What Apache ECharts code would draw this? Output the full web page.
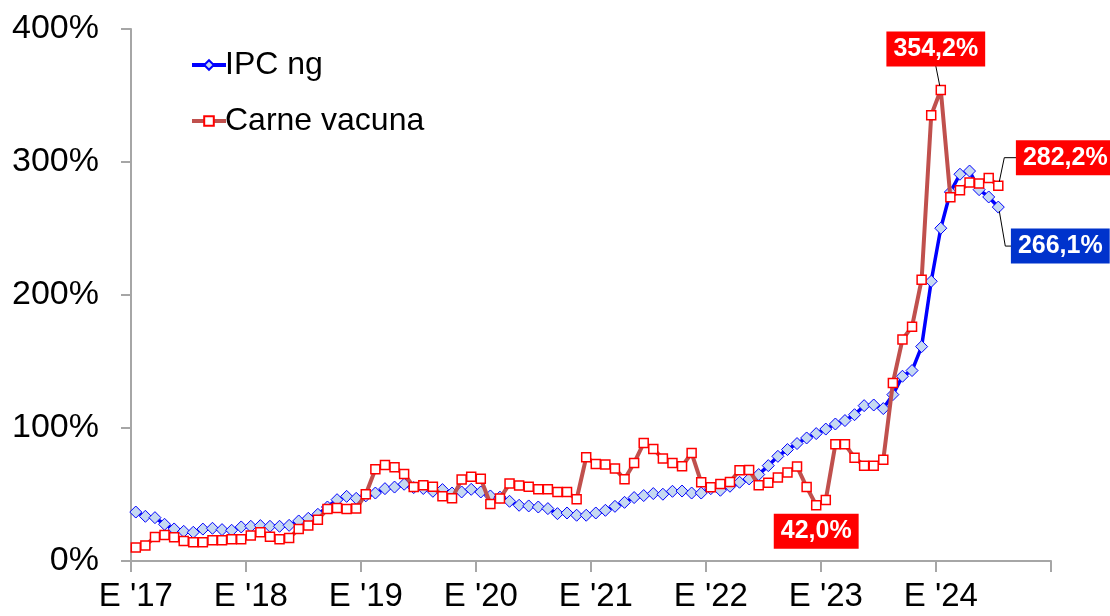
<!DOCTYPE html>
<html>
<head>
<meta charset="utf-8">
<script src="https://cdn.jsdelivr.net/npm/echarts@6/dist/echarts.min.js"></script>
<style>
html,body{margin:0;padding:0;background:#fff;}
#chart{width:1110px;height:616px;}
</style>
</head>
<body>
<div id="chart"></div>
<script>
// Monthly categories Jan 2017 .. Dec 2024 (labels shown on January only)
const years = ["17","18","19","20","21","22","23","24"];
const monthAbbr = ["E","F","M","A","M","J","J","A","S","O","N","D"];
const categories = [];
years.forEach(y => monthAbbr.forEach((m, i) => categories.push(m + " '" + y + (i === 0 ? "" : "-" + (i + 1)))));

// IPC ng (year-on-year %), Jan 2017 .. Jul 2024
const ipcNg = [
  36.8, 33.6, 32.6, 27.6, 24.1, 22.3, 21.6, 24.0, 24.6, 23.6, 23.1, 25.6,
  26.1, 26.6, 26.1, 26.1, 26.8, 30.1, 32.1, 35.1, 40.6, 46.1, 48.6, 47.1,
  49.0, 51.1, 54.4, 55.6, 57.7, 55.2, 54.5, 52.4, 53.7, 51.1, 51.9, 53.9,
  51.9, 48.9, 48.0, 44.9, 41.9, 41.4, 40.6, 39.4, 35.6, 36.1, 34.4, 34.4,
  36.1, 38.1, 41.1, 44.1, 47.7, 49.2, 50.7, 50.2, 52.4, 52.6, 51.1, 51.1,
  54.4, 53.2, 56.2, 59.2, 61.7, 65.0, 71.7, 78.7, 83.8, 88.3, 92.5, 95.8,
  99.2, 103.0, 105.6, 110.0, 116.8, 117.3, 114.6, 125.1, 138.9, 143.2, 161.2, 210.3,
  250.2, 277.4, 290.8, 293.2, 279.2, 273.7, 266.1
];

// Carne vacuna (year-on-year %), Jan 2017 .. Jul 2024
const carneVacuna = [
  10.1, 11.6, 18.0, 19.5, 17.8, 15.0, 14.1, 14.1, 15.6, 15.6, 16.3, 16.3,
  19.1, 21.6, 18.3, 16.3, 17.3, 24.1, 26.6, 31.1, 39.1, 39.8, 39.1, 39.4,
  50.2, 69.0, 72.2, 70.5, 65.4, 55.6, 56.9, 55.9, 48.6, 47.1, 61.2, 63.4,
  61.9, 42.9, 46.9, 58.2, 56.7, 55.9, 53.9, 53.9, 51.9, 51.9, 46.4, 78.0,
  73.0, 72.5, 69.5, 61.4, 73.7, 88.7, 84.2, 77.0, 73.7, 71.2, 81.2, 59.2,
  55.4, 57.9, 59.4, 68.2, 68.5, 56.9, 58.9, 62.7, 66.5, 71.0, 55.6, 42.0,
  45.9, 87.7, 87.7, 77.7, 71.7, 71.7, 76.2, 133.8, 166.5, 176.2, 211.5, 335.1,
  354.2, 273.5, 278.7, 284.5, 283.8, 288.0, 282.2
];

const yTicks = [0, 100, 200, 300, 400];

const FONT = "'Liberation Sans', Arial, sans-serif";
const chart = echarts.init(document.getElementById('chart'), null, {renderer: 'canvas'});

const fmt = v => v.toFixed(1).replace('.', ',') + '%';

chart.setOption({
  animation: false,
  backgroundColor: '#fff',
  grid: {left: 131, right: 59, top: 29, bottom: 55, containLabel: false},
  legend: {
    orient: 'vertical', left: 185, top: 44,
    itemWidth: 34, itemHeight: 12, itemGap: 24,
    lineStyle: {width: 4},
    textStyle: {fontFamily: FONT, fontSize: 32, color: '#000', padding: [0, 0, 0, -6]},
    data: ['IPC ng', 'Carne vacuna']
  },
  xAxis: {
    type: 'category', data: categories, boundaryGap: true,
    axisLine: {lineStyle: {color: '#A6A6A6', width: 2}},
    axisTick: {show: true, interval: 11, length: 11, lineStyle: {color: '#A6A6A6', width: 2}},
    axisLabel: {
      interval: 11, margin: 19, color: '#000', fontFamily: FONT, fontSize: 33,
      formatter: v => v.split('-')[0]
    },
    splitLine: {show: false}
  },
  yAxis: {
    type: 'value', min: yTicks[0], max: yTicks[yTicks.length - 1], interval: 100,
    axisLine: {show: true, lineStyle: {color: '#A6A6A6', width: 2}},
    axisTick: {show: true, inside: false, length: 10, lineStyle: {color: '#A6A6A6', width: 2}},
    axisLabel: {margin: 32, color: '#000', fontFamily: FONT, fontSize: 34, formatter: '{value}%'},
    splitLine: {show: false}
  },
  series: [
    {
      name: 'IPC ng', type: 'line', data: ipcNg, z: 2,
      symbol: 'diamond', symbolSize: [12, 12], showAllSymbol: true,
      lineStyle: {color: '#0000FF', width: 3.5},
      itemStyle: {color: '#C6D9F1', borderColor: '#0000FF', borderWidth: 1}
    },
    {
      name: 'Carne vacuna', type: 'line', data: carneVacuna, z: 3,
      symbol: 'rect', symbolSize: [9, 9], showAllSymbol: true,
      lineStyle: {color: '#C0504D', width: 4},
      itemStyle: {color: '#FFFFFF', borderColor: '#FF0000', borderWidth: 1.5}
    }
  ]
});

// Annotation boxes anchored to data points via the chart's own scales
function px(seriesIndex, idx, arr) {
  return chart.convertToPixel({seriesIndex: seriesIndex}, [idx, arr[idx]]);
}
const iMaxC = carneVacuna.indexOf(Math.max(...carneVacuna));
const iMinC = 71;
const iLast = carneVacuna.length - 1;

const pMax = px(1, iMaxC, carneVacuna);
const pMin = px(1, iMinC, carneVacuna);
const pLastC = px(1, iLast, carneVacuna);
const pLastI = px(0, iLast, ipcNg);

function box(text, x, y, bg) {
  return {
    type: 'text', z: 100, x: x, y: y,
    style: {
      text: text, fill: '#fff', font: 'bold 25px ' + FONT,
      align: 'center', verticalAlign: 'middle',
      backgroundColor: bg, padding: [5, 7, 5, 7], lineHeight: 25
    }
  };
}
function leader(points) {
  return {type: 'polyline', z: 99, shape: {points: points}, style: {stroke: '#000', lineWidth: 1, fill: null}};
}

chart.setOption({
  graphic: [
    leader([[pMax[0] - 1, pMax[1] - 4], [pMax[0] - 5, pMax[1] - 24]]),
    box(fmt(carneVacuna[iMaxC]), pMax[0] - 5, pMax[1] - 41, '#FF0000'),
    leader([[pLastC[0] + 1, pLastC[1] - 4], [pLastC[0] + 6, pLastC[1] - 28], [pLastC[0] + 19, pLastC[1] - 28]]),
    box(fmt(carneVacuna[iLast]), pLastC[0] + 67, pLastC[1] - 28, '#FF0000'),
    leader([[pLastI[0] + 1, pLastI[1] + 4], [pLastI[0] + 7, pLastI[1] + 39], [pLastI[0] + 15, pLastI[1] + 39]]),
    box(fmt(ipcNg[iLast]), pLastI[0] + 62, pLastI[1] + 39, '#0033CC'),
    box(fmt(carneVacuna[iMinC]), pMin[0], pMin[1] + 26, '#FF0000')
  ]
});
</script>
</body>
</html>
